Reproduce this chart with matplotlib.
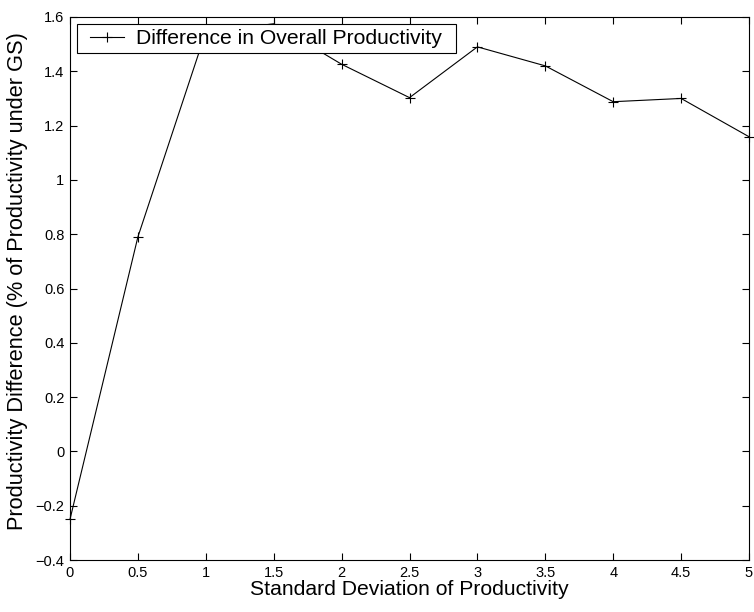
import matplotlib
matplotlib.use("Agg")
import matplotlib.pyplot as plt
from matplotlib.patches import Rectangle

plt.rcParams['font.family'] = ['Liberation Sans', 'DejaVu Sans']

std_dev = [0, 0.5, 1, 1.5, 2, 2.5, 3, 3.5, 4, 4.5, 5]
difference = [-0.25, 0.79, 1.545, 1.575, 1.426, 1.303, 1.49, 1.42, 1.288, 1.30, 1.159]
xticks = [0, 0.5, 1, 1.5, 2, 2.5, 3, 3.5, 4, 4.5, 5]
xticklabels = ['0', '0.5', '1', '1.5', '2', '2.5', '3', '3.5', '4', '4.5', '5']
yticks = [-0.4, -0.2, 0, 0.2, 0.4, 0.6, 0.8, 1, 1.2, 1.4, 1.6]
yticklabels = ['\u22120.4', '\u22120.2', '0', '0.2', '0.4', '0.6', '0.8', '1', '1.2', '1.4', '1.6']

W, H = 754, 612
fig = plt.figure(figsize=(W / 100, H / 100), dpi=100)
ax = fig.add_axes([70/W, 52/H, 679/W, 543/H])
ax.plot(std_dev, difference, color='black', linewidth=0.8, marker='+',
        markersize=7.5, markeredgewidth=0.8, label='Difference in Overall Productivity',
        clip_on=False, zorder=3)
ax.set_xlim(0, 5)
ax.set_ylim(-0.4, 1.6)
ax.set_xticks(xticks)
ax.set_xticklabels(xticklabels)
ax.set_yticks(yticks)
ax.set_yticklabels(yticklabels)
ax.tick_params(direction='in', top=True, right=True, length=5, width=0.8,
               labelsize=10.5, pad=4)
for s in ax.spines.values():
    s.set_linewidth(0.8)
ax.set_xlabel('Standard Deviation of Productivity', fontsize=15.2, labelpad=0)
ax.set_ylabel('Productivity Difference (% of Productivity under GS)', fontsize=15.7)
ax.yaxis.set_label_coords(-0.062, 0.513)

leg = ax.legend(loc='upper left', fontsize=15.2, frameon=False,
                bbox_to_anchor=(20/679, 1 - 12/543), borderaxespad=0,
                handlelength=1.6, handletextpad=0.6, borderpad=0)
leg.set_zorder(6)

fig.canvas.draw()
ext = leg.get_window_extent()
pad_l, pad_r = 13, 14
cy = (ext.y0 + ext.y1) / 2
half_h = 14.5
frame = Rectangle(((ext.x0 - pad_l) / W, (cy - half_h) / H),
                  (ext.width + pad_l + pad_r) / W, 2 * half_h / H,
                  transform=fig.transFigure, facecolor='white',
                  edgecolor='black', linewidth=0.8, zorder=5)
ax.add_artist(frame)
frame.set_clip_on(False)
fig.savefig('out.png', dpi=100)
